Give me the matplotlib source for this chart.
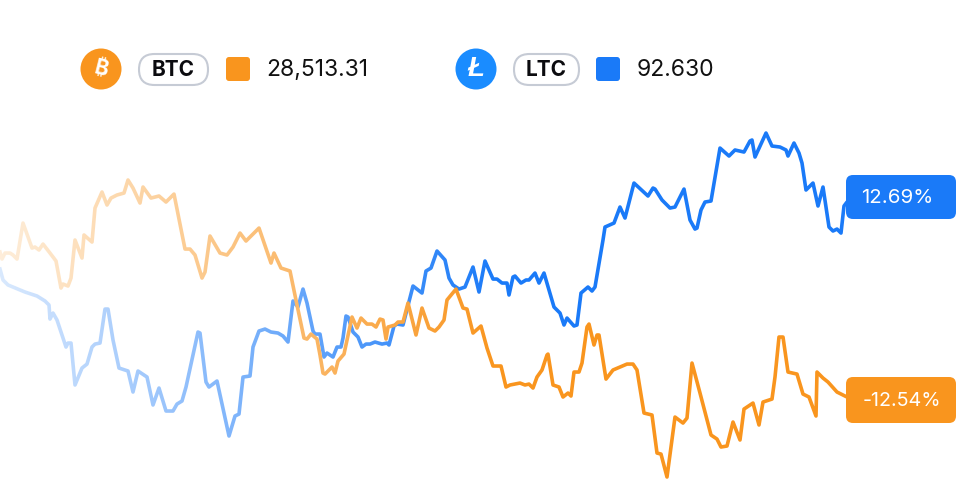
import numpy as np
import matplotlib
matplotlib.use("Agg")
from matplotlib import pyplot as plt
from matplotlib.patches import Circle, FancyBboxPatch

# time steps and % change for each coin
btc_t = [0, 2, 5, 10, 13, 17, 23, 32, 35, 39, 43, 50, 56, 61, 63, 68, 71, 75, 82, 84, 92, 95, 102, 107, 111, 117, 124,
         128, 133, 140, 143, 151, 159, 166, 174, 185, 190, 195, 202, 205, 210, 220, 227, 233, 240, 246, 259, 271, 274,
         281, 290, 297, 304, 307, 311, 317, 320, 323, 325, 332, 335, 338, 344, 352, 357, 361, 367, 372, 376, 380, 383,
         386, 388, 395, 398, 403, 408, 416, 422, 429, 435, 439, 444, 447, 456, 463, 467, 473, 481, 487, 493, 501, 506,
         510, 520, 525, 529, 533, 537, 542, 547, 548, 553, 559, 563, 568, 571, 574, 579, 582, 587, 589, 594, 597, 599,
         606, 613, 620, 627, 633, 637, 644, 652, 657, 661, 667, 675, 683, 687, 692, 700, 711, 717, 721, 727, 733, 740,
         744, 753, 759, 763, 772, 775, 779, 783, 788, 797, 803, 809, 816, 817, 823, 828, 837, 847, 856]
btc_pct = [6.40, 5.50, 6.27, 6.27, 6.02, 5.50, 10.11, 6.91, 7.04, 6.66, 7.42, 6.27, 5.25, 1.79, 2.30, 2.05, 3.07, 7.94,
           5.63, 8.58, 7.68, 12.03, 14.08, 12.42, 13.31, 13.70, 13.95, 15.62, 14.59, 12.67, 14.72, 13.31, 13.57, 12.80,
           13.82, 6.78, 6.78, 6.02, 3.07, 3.84, 8.45, 6.27, 6.02, 7.04, 8.83, 7.81, 9.47, 4.99, 6.27, 4.35, 3.97, -0.38,
           -4.61, -4.74, -4.10, -4.74, -6.78, -9.09, -9.22, -8.32, -9.09, -7.55, -6.66, -1.92, -3.33, -2.05, -2.82,
           -2.82, -3.20, -2.18, -2.30, -4.74, -3.20, -2.94, -2.56, -2.56, -0.13, -4.22, -0.77, -3.33, -3.71, -3.20,
           -2.30, 0.26, 1.66, -0.77, -0.90, -3.97, -3.07, -5.89, -8.19, -8.19, -10.88, -10.62, -10.37, -10.62, -10.50,
           -11.01, -9.60, -8.70, -6.78, -6.66, -10.62, -10.88, -12.16, -11.65, -12.03, -8.96, -8.96, -7.81, -3.20,
           -2.82, -5.50, -4.22, -4.22, -9.86, -8.70, -8.32, -7.94, -7.94, -8.70, -14.21, -14.46, -19.33, -19.46,
           -22.40, -14.72, -15.49, -14.85, -7.81, -11.65, -17.02, -17.54, -18.56, -18.43, -15.36, -17.66, -13.70,
           -12.93, -15.74, -12.80, -12.42, -9.60, -4.48, -4.48, -8.96, -9.22, -11.78, -12.16, -14.59, -8.96, -9.73,
           -10.24, -11.52, -12.16, -12.54]

ltc_t = [0, 3, 8, 25, 37, 45, 49, 50, 53, 57, 66, 68, 71, 75, 82, 87, 92, 95, 100, 105, 108, 113, 119, 128, 133, 138,
         147, 153, 159, 166, 173, 177, 182, 186, 198, 200, 206, 209, 217, 229, 235, 239, 243, 250, 253, 259, 265, 271,
         278, 283, 288, 293, 298, 303, 307, 313, 315, 320, 324, 327, 333, 337, 341, 343, 346, 348, 353, 358, 362, 366,
         370, 375, 382, 387, 389, 394, 397, 403, 413, 422, 426, 431, 437, 445, 449, 453, 459, 465, 473, 479, 485, 493,
         497, 502, 507, 509, 513, 515, 521, 526, 529, 535, 539, 544, 554, 560, 564, 567, 574, 577, 581, 588, 592, 595,
         603, 605, 614, 620, 625, 634, 648, 653, 655, 662, 670, 675, 684, 690, 695, 697, 701, 705, 711, 720, 729, 735,
         744, 750, 752, 755, 766, 772, 780, 786, 788, 794, 799, 802, 806, 813, 818, 823, 829, 833, 837, 841, 844, 847,
         856]
ltc_pct = [4.22, 2.82, 2.18, 1.28, 0.77, 0.13, -0.38, -2.18, -1.41, -2.30, -5.76, -5.25, -5.25, -10.62, -8.45, -7.94,
           -5.76, -5.38, -5.25, -0.90, -0.90, -4.86, -8.45, -8.83, -11.52, -8.83, -9.60, -13.18, -11.01, -13.95,
           -13.95, -13.06, -12.67, -10.88, -3.84, -3.97, -10.24, -10.88, -10.11, -17.15, -14.59, -14.34, -9.60, -9.47,
           -5.76, -3.71, -3.46, -3.84, -3.97, -4.35, -5.12, 0.13, -0.64, 1.66, -0.13, -3.71, -4.10, -4.10, -7.04,
           -6.53, -7.04, -5.76, -5.76, -4.61, -1.79, -1.92, -3.84, -4.48, -5.76, -5.38, -5.38, -5.12, -5.38, -5.25,
           -5.50, -3.07, -2.82, -2.94, 2.05, 1.15, 3.97, 4.35, 6.53, 5.38, 3.07, 2.18, 1.66, 1.92, 4.48, 1.28, 5.25,
           2.94, 2.94, 2.43, 2.43, 0.90, 3.20, 3.33, 2.43, 2.82, 2.82, 3.71, 2.43, 3.71, -0.64, -1.41, -2.94, -2.05,
           -3.07, -2.94, 1.15, 1.92, 1.41, 1.92, 7.94, 9.60, 10.11, 12.16, 10.75, 15.23, 13.57, 14.59, 14.46, 13.06,
           12.03, 12.16, 14.46, 10.50, 9.34, 9.47, 11.78, 12.80, 12.93, 19.71, 18.69, 19.46, 19.20, 20.61, 20.74,
           18.56, 21.63, 19.97, 19.84, 19.46, 18.69, 20.35, 19.07, 17.79, 14.34, 15.23, 12.29, 14.72, 9.60, 9.09, 9.34,
           8.83, 12.29, 12.80, 12.69]

btc_price = "28,513.31"
ltc_price = "92.630"
btc_change = "-12.54%"
ltc_change = "12.69%"

ORANGE = "#F9951E"
BLUE = "#1A7AF8"
FONT = "Inter"

fig = plt.figure(figsize=(9.6, 5), dpi=100)

# chart axes over the whole figure
ax = fig.add_axes([0, 0, 1, 1])
ax.set_xlim(0, 960)
ax.set_ylim(-25.34, 38.66)
ax.axis("off")
ax.plot(ltc_t, ltc_pct, color=BLUE, lw=2.6, solid_joinstyle="round", zorder=2)
ax.plot(btc_t, btc_pct, color=ORANGE, lw=2.6, solid_joinstyle="round", zorder=3)

# overlay in pixel units for the header, the end labels and the fade
ov = fig.add_axes([0, 0, 1, 1])
ov.set_xlim(0, 960)
ov.set_ylim(500, 0)
ov.axis("off")
ov.patch.set_alpha(0)

# white fade over the left half
fade = np.ones((1, 256, 4))
fade[0, :, 3] = np.linspace(0.84, 0, 256)
ov.imshow(fade, extent=[0, 500, 500, 0], aspect="auto", zorder=1)
ov.set_xlim(0, 960)
ov.set_ylim(500, 0)


def box(x0, y0, x1, y1, r, fc, ec="none", lw=0):
    ov.add_patch(FancyBboxPatch((x0 + r, y0 + r), x1 - x0 - 2 * r, y1 - y0 - 2 * r,
                                boxstyle="round,pad=%f,rounding_size=%f" % (r, r),
                                fc=fc, ec=ec, lw=lw, zorder=4))


def header(pill0, pill1, sq0, tx, color, sym, price):
    box(pill0, 54, pill1, 85, 15.5, "white", "#C6CBD5", 1.5)
    ov.text((pill0 + pill1) / 2, 70, sym, ha="center", va="center", fontsize=15, fontweight="bold",
            family=FONT, color="#0B0B0F", zorder=5)
    box(sq0, 57, sq0 + 24, 81, 3, color)
    ov.text(tx, 70, price, ha="left", va="center", fontsize=16.5, family=FONT, color="#111111", zorder=5)


# BTC header
ov.add_patch(Circle((101, 69), 20.5, fc=ORANGE, ec="none", zorder=4))
ov.text(101, 69, "\u20bf", ha="center", va="center", fontsize=15, fontweight="bold",
        family=["Inter", "Noto Sans", "Roboto", "Open Sans", "Lato"], color="white", rotation=-14, zorder=5)
header(139, 208, 226, 266, ORANGE, "BTC", btc_price)

# LTC header
ov.add_patch(Circle((476, 69), 20.5, fc="#1A8CFF", ec="none", zorder=4))
ov.text(476, 69, "\u0141", ha="center", va="center", fontsize=20, fontweight="bold", style="italic",
        family="Liberation Sans", color="white", zorder=5)
header(514, 579, 596, 637, BLUE, "LTC", ltc_price)

# end labels
box(846, 175, 956, 219, 7, BLUE)
ov.text(897.5, 198, ltc_change, ha="center", va="center", fontsize=14.8, family=FONT, color="white", zorder=5)
box(846, 377, 956, 423, 7, ORANGE)
ov.text(902, 401, btc_change, ha="center", va="center", fontsize=14.2, family=FONT, color="white", zorder=5)

plt.savefig("out.png", dpi=100)
